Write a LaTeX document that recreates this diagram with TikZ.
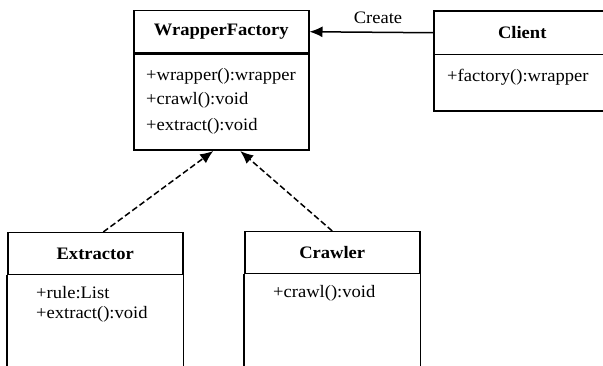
\documentclass[tikz,border=0pt]{standalone}
\usepackage{fontspec}
\setmainfont{Liberation Serif}[FakeStretch=1.06]
\usetikzlibrary{arrows.meta}
\tikzset{
  head/.style={draw, line width=1.5pt, minimum width=175pt, minimum height=42pt,
    anchor=north west, inner sep=0pt, font=\fontsize{17.5}{20}\selectfont\bfseries},
  body/.style={draw, line width=1.5pt, minimum width=175pt, anchor=north west, inner sep=0pt},
  member/.style={anchor=west, inner sep=0pt},
  uses/.style={-{Latex[length=13pt,width=11pt]}, line width=1.5pt},
  realizes/.style={uses, dash pattern=on 6pt off 3pt}
}
\begin{document}
\begin{tikzpicture}[x=1pt, y=-1pt, font=\fontsize{17.5}{20}\selectfont]
  \useasboundingbox (0,0) rectangle (603,366);
  \node[head] (wf) at (133,10) {WrapperFactory};
  \node[body, minimum height=96pt] (wfbody) at (wf.south west) {};
  \node[member] (wfwrapper) at (146,76) {+wrapper():wrapper};
  \node[member] (wfcrawl) at (146,100) {+crawl():void};
  \node[member] (wfextract) at (146,126) {+extract():void};

  \node[head, draw=none, minimum width=175pt] (client) at (434,11) {Client};
  \node[body, draw=none, minimum width=175pt, minimum height=55pt] (clientbody) at (client.south west) {};
  \draw[line width=1.5pt] (client.north east) -- (client.north west) -- (clientbody.south west) -- (clientbody.south east)
    (client.south west) -- (client.south east);
  \node[member] (clientfactory) at (447,77) {+factory():wrapper};

  \node[head] (extractor) at (7,232) {Extractor};
  \node[body, draw=none, minimum height=140pt] (extractorbody) at (extractor.south west) {};
  \draw[line width=1.5pt] (extractorbody.south west) -- (extractorbody.north west)
    (extractorbody.north east) -- (extractorbody.south east);
  \node[member] (extractorrule) at (36,293) {+rule:List};
  \node[member] (extractorextract) at (36,314) {+extract():void};

  \node[head] (crawler) at (244,231) {Crawler};
  \node[body, draw=none, minimum height=140pt] (crawlerbody) at (crawler.south west) {};
  \draw[line width=1.5pt] (crawlerbody.south west) -- (crawlerbody.north west)
    (crawlerbody.north east) -- (crawlerbody.south east);
  \node[member] (crawlercrawl) at (273,293) {+crawl():void};

  \draw[uses] (client.west) -- (wf.east)
    node[pos=0.45, above=5pt] (create) {Create};
  \draw[realizes] ([xshift=8pt]extractor.north) -- ([xshift=-8pt]wfbody.south);
  \draw[realizes] (crawler.north) -- ([xshift=19pt]wfbody.south);
\end{tikzpicture}
\end{document}
